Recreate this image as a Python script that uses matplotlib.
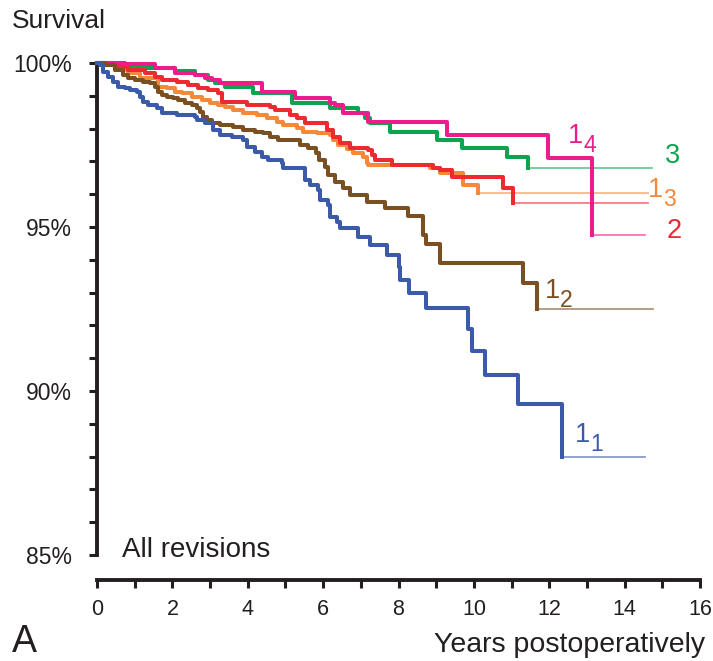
import numpy as np
import matplotlib.pyplot as plt
from matplotlib import transforms

plt.rcParams['font.family'] = ['Liberation Sans', 'DejaVu Sans']

# Kaplan-Meier steps: years, survival (%) after each event
t_1_1 = [0.08, 0.16, 0.29, 0.42, 0.56, 0.74, 0.88, 1.06, 1.14, 1.22, 1.35, 1.59, 1.72,
         2.12, 2.60, 2.65, 2.86, 3.08, 3.26, 3.58, 3.87, 3.98, 4.19, 4.38, 4.54, 4.91,
         4.93, 5.52, 5.65, 5.86, 5.92, 6.13, 6.18, 6.37, 6.45, 6.92, 7.24, 7.69, 8.01,
         8.04, 8.28, 8.73, 9.84, 9.95, 10.29, 11.17, 12.33]
s_1_1 = [99.94, 99.73, 99.57, 99.42, 99.27, 99.24, 99.18, 99.12, 98.96, 98.81, 98.72,
         98.63, 98.48, 98.41, 98.35, 98.26, 98.17, 97.96, 97.80, 97.74, 97.65, 97.44,
         97.29, 97.13, 97.04, 96.95, 96.80, 96.43, 96.28, 96.13, 95.82, 95.67, 95.30,
         95.15, 94.97, 94.70, 94.45, 94.15, 93.78, 93.38, 92.99, 92.53, 91.89, 91.22,
         90.49, 89.60, 88.00]

t_1_2 = [0.21, 0.48, 0.69, 0.82, 1.01, 1.22, 1.41, 1.54, 1.62, 1.72, 1.86, 2.02, 2.15,
         2.33, 2.52, 2.65, 2.73, 2.81, 2.92, 3.05, 3.26, 3.61, 3.87, 4.19, 4.40, 4.59,
         4.80, 5.38, 5.60, 5.81, 5.89, 6.05, 6.13, 6.31, 6.53, 6.71, 7.16, 7.64, 8.25,
         8.65, 8.73, 9.10, 11.30, 11.67]
s_1_2 = [99.94, 99.79, 99.63, 99.54, 99.48, 99.42, 99.39, 99.27, 99.12, 99.02, 98.96,
         98.93, 98.87, 98.78, 98.72, 98.63, 98.51, 98.35, 98.26, 98.17, 98.11, 98.05,
         97.96, 97.90, 97.87, 97.74, 97.65, 97.50, 97.41, 97.26, 97.04, 96.83, 96.59,
         96.37, 96.19, 95.98, 95.76, 95.58, 95.34, 94.76, 94.48, 93.90, 93.29, 92.50]

t_1_3 = [0.48, 0.82, 1.14, 1.62, 1.86, 2.07, 2.25, 2.52, 2.79, 3.00, 3.21, 3.40, 3.61,
         3.87, 4.24, 4.51, 4.77, 4.93, 5.31, 5.46, 5.84, 6.18, 6.26, 6.39, 6.63, 6.79,
         7.06, 7.16, 7.19, 8.83, 9.10, 9.71, 10.11]
s_1_3 = [99.79, 99.70, 99.54, 99.27, 99.24, 99.12, 99.09, 98.96, 98.87, 98.78, 98.72,
         98.66, 98.57, 98.48, 98.41, 98.32, 98.20, 98.11, 98.02, 97.90, 97.87, 97.80,
         97.65, 97.50, 97.38, 97.26, 97.13, 96.95, 96.89, 96.80, 96.65, 96.28, 96.04]

t_2 = [0.48, 0.82, 1.27, 1.54, 1.72, 2.12, 2.41, 2.68, 2.94, 3.21, 3.32, 3.98, 4.59,
       4.72, 5.12, 5.31, 5.52, 6.10, 6.26, 6.45, 6.71, 7.19, 7.29, 7.37, 7.82, 8.91,
       9.10, 9.42, 10.77, 11.03]
s_2 = [99.88, 99.79, 99.70, 99.57, 99.48, 99.42, 99.33, 99.24, 99.18, 99.09, 98.81,
       98.72, 98.66, 98.57, 98.41, 98.32, 98.17, 97.96, 97.74, 97.56, 97.41, 97.35,
       97.20, 97.04, 96.89, 96.80, 96.74, 96.52, 96.19, 95.73]

t_3 = [0.34, 0.82, 2.07, 2.60, 2.94, 3.13, 3.40, 4.14, 5.17, 6.18, 6.92, 7.11, 7.24,
       7.77, 9.02, 9.68, 10.88, 11.43]
s_3 = [99.94, 99.85, 99.76, 99.63, 99.48, 99.39, 99.27, 99.09, 98.78, 98.63, 98.48,
       98.32, 98.17, 97.90, 97.65, 97.41, 97.13, 96.80]

t_1_4 = [0.74, 1.54, 2.07, 2.60, 2.86, 3.05, 3.26, 4.38, 5.25, 6.18, 6.31, 6.53, 7.19,
         9.28, 11.96, 13.13]
s_1_4 = [99.97, 99.85, 99.70, 99.63, 99.54, 99.48, 99.39, 99.12, 98.93, 98.78, 98.72,
         98.48, 98.20, 97.80, 97.10, 94.76]

# follow-up end (censored tail)
end_1_1, end_1_2, end_1_3, end_2, end_3, end_1_4 = 14.54, 14.75, 14.62, 14.62, 14.72, 14.54

blue = '#3b5ba9'
brown = '#7a4f22'
orange = '#f5893a'
red = '#ec2a30'
green = '#0ca44f'
pink = '#ec1c8d'
ink = '#231f20'


def km(ax, t, s, t_end, color, z):
    x = np.r_[0, t]
    y = np.r_[100, s]
    ax.step(x, y, where='post', color=color, lw=2.9, clip_on=False, zorder=z)
    ax.plot([x[-1], t_end], [y[-1], y[-1]], color=color, lw=1.3, alpha=0.6,
            clip_on=False, zorder=z - 0.5)


def label(ax, x, y, main, sub, color):
    ax.text(x, y, main, color=color, fontsize=19.5, ha='left', va='baseline')
    if sub:
        tr = transforms.offset_copy(ax.transData, fig=ax.figure, x=11, y=-6.5, units='points')
        ax.text(x, y, sub, color=color, fontsize=16.5, ha='left', va='baseline', transform=tr)


fig = plt.figure(figsize=(7.13, 6.61), dpi=100)
ax = fig.add_axes([97 / 713, 1 - 555 / 661, 603 / 713, 492 / 661])

km(ax, t_3, s_3, end_3, green, 3)
km(ax, t_1_3, s_1_3, end_1_3, orange, 4)
km(ax, t_2, s_2, end_2, red, 5)
km(ax, t_1_4, s_1_4, end_1_4, pink, 6)
km(ax, t_1_2, s_1_2, end_1_2, brown, 7)
km(ax, t_1_1, s_1_1, end_1_1, blue, 8)

ax.set_xlim(0, 16)
ax.set_ylim(85, 100)
for side in ['top', 'right']:
    ax.spines[side].set_visible(False)
for side in ['left', 'bottom']:
    ax.spines[side].set_linewidth(2.8)
    ax.spines[side].set_color(ink)
ax.spines['bottom'].set_position(('outward', 18))

ax.set_xticks(range(0, 17))
ax.set_xticklabels([str(i) if i % 2 == 0 else '' for i in range(0, 17)])
ax.set_yticks(range(85, 101))
ax.set_yticklabels([f'{v}%' if v % 5 == 0 else '' for v in range(85, 101)])
ax.tick_params(axis='both', direction='out', length=6, width=2.2, color=ink,
               labelcolor=ink, labelsize=15.5)
ax.tick_params(axis='y', pad=12, labelsize=16.5)
ax.tick_params(axis='x', pad=8)

label(ax, 12.50, 97.56, '1', '4', pink)
label(ax, 15.07, 96.95, '3', '', green)
label(ax, 14.62, 95.91, '1', '3', orange)
label(ax, 15.12, 94.66, '2', '', red)
label(ax, 11.88, 92.84, '1', '2', brown)
label(ax, 12.68, 88.45, '1', '1', blue)

ax.text(0.66, 84.94, 'All revisions', fontsize=20, color=ink, ha='left', va='baseline')
fig.text(12 / 713, 1 - 28 / 661, 'Survival', fontsize=19, color=ink, ha='left', va='baseline')
fig.text(12 / 713, 1 - 652 / 661, 'A', fontsize=27, color=ink, ha='left', va='baseline')
fig.text(705 / 713, 1 - 652 / 661, 'Years postoperatively', fontsize=20.5, color=ink,
         ha='right', va='baseline')

fig.savefig('out.png', dpi=100)
